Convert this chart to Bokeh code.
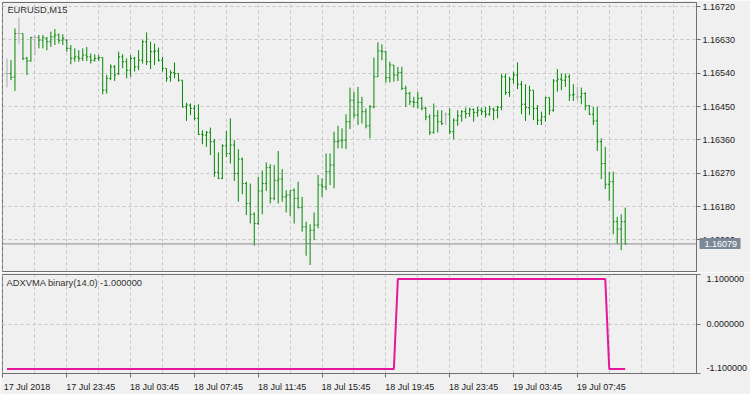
from bokeh.plotting import figure
from bokeh.layouts import column
from bokeh.models import (Range1d, FixedTicker, PrintfTickFormatter, ColumnDataSource,
                          Span, Label, LinearAxis)
from bokeh.embed import file_html
from bokeh.resources import INLINE

# ---------------- data (EURUSD, M15, 17-19 Jul 2018) ----------------
symbol_title = "EURUSD,M15"
indicator_title = "ADXVMA binary(14.0) -1.000000"
last_price = 1.16079

opens = [
    1.16539, 1.16539, 1.16530, 1.16647, 1.16647, 1.16580, 1.16573, 1.16638, 1.16636, 1.16629,
    1.16634, 1.16625, 1.16638, 1.16643, 1.16629, 1.16629, 1.16607, 1.16580, 1.16584, 1.16580,
    1.16589, 1.16584, 1.16575, 1.16580, 1.16582, 1.16494, 1.16526, 1.16557, 1.16539, 1.16584,
    1.16571, 1.16548, 1.16580, 1.16557, 1.16575, 1.16625, 1.16571, 1.16598, 1.16600, 1.16575,
    1.16553, 1.16530, 1.16542, 1.16539, 1.16521, 1.16449, 1.16454, 1.16445, 1.16418, 1.16375,
    1.16373, 1.16380, 1.16355, 1.16272, 1.16256, 1.16344, 1.16323, 1.16346, 1.16269, 1.16308,
    1.16242, 1.16188, 1.16159, 1.16134, 1.16222, 1.16242, 1.16285, 1.16202, 1.16249, 1.16254,
    1.16206, 1.16211, 1.16224, 1.16202, 1.16177, 1.16125, 1.16080, 1.16116, 1.16130, 1.16238,
    1.16233, 1.16274, 1.16292, 1.16355, 1.16357, 1.16359, 1.16409, 1.16467, 1.16427, 1.16461,
    1.16436, 1.16398, 1.16449, 1.16530, 1.16600, 1.16598, 1.16528, 1.16562, 1.16535, 1.16542,
    1.16499, 1.16485, 1.16463, 1.16461, 1.16472, 1.16445, 1.16422, 1.16380, 1.16425, 1.16409,
    1.16429, 1.16429, 1.16382, 1.16413, 1.16425, 1.16436, 1.16431, 1.16442, 1.16434, 1.16440,
    1.16436, 1.16429, 1.16443, 1.16440, 1.16448, 1.16530, 1.16488, 1.16524, 1.16535, 1.16510,
    1.16456, 1.16447, 1.16494, 1.16445, 1.16413, 1.16422, 1.16474, 1.16440, 1.16519, 1.16524,
    1.16521, 1.16530, 1.16481, 1.16476, 1.16476, 1.16485, 1.16452, 1.16429, 1.16411, 1.16355,
    1.16296, 1.16240, 1.16247, 1.16139, 1.16119, 1.16139,
]
highs = [
    1.16580, 1.16575, 1.16661, 1.16690, 1.16647, 1.16584, 1.16638, 1.16641, 1.16643, 1.16643,
    1.16638, 1.16652, 1.16659, 1.16647, 1.16645, 1.16632, 1.16616, 1.16607, 1.16602, 1.16607,
    1.16611, 1.16593, 1.16591, 1.16589, 1.16582, 1.16535, 1.16564, 1.16562, 1.16598, 1.16591,
    1.16580, 1.16589, 1.16584, 1.16602, 1.16629, 1.16650, 1.16625, 1.16620, 1.16609, 1.16584,
    1.16553, 1.16548, 1.16569, 1.16539, 1.16521, 1.16460, 1.16458, 1.16454, 1.16456, 1.16386,
    1.16384, 1.16393, 1.16362, 1.16326, 1.16348, 1.16384, 1.16418, 1.16359, 1.16335, 1.16312,
    1.16247, 1.16242, 1.16164, 1.16260, 1.16277, 1.16299, 1.16294, 1.16292, 1.16330, 1.16281,
    1.16224, 1.16224, 1.16229, 1.16247, 1.16206, 1.16139, 1.16132, 1.16164, 1.16265, 1.16256,
    1.16323, 1.16323, 1.16382, 1.16398, 1.16391, 1.16429, 1.16501, 1.16490, 1.16503, 1.16476,
    1.16445, 1.16454, 1.16582, 1.16623, 1.16618, 1.16600, 1.16571, 1.16562, 1.16557, 1.16557,
    1.16506, 1.16490, 1.16476, 1.16490, 1.16476, 1.16449, 1.16429, 1.16458, 1.16440, 1.16440,
    1.16434, 1.16445, 1.16418, 1.16440, 1.16440, 1.16447, 1.16447, 1.16445, 1.16449, 1.16447,
    1.16449, 1.16452, 1.16447, 1.16452, 1.16537, 1.16539, 1.16530, 1.16544, 1.16569, 1.16519,
    1.16510, 1.16506, 1.16494, 1.16454, 1.16436, 1.16476, 1.16474, 1.16524, 1.16551, 1.16539,
    1.16539, 1.16537, 1.16510, 1.16503, 1.16501, 1.16488, 1.16454, 1.16449, 1.16449, 1.16364,
    1.16341, 1.16274, 1.16274, 1.16152, 1.16159, 1.16177,
]
lows = [
    1.16502, 1.16521, 1.16492, 1.16620, 1.16575, 1.16535, 1.16571, 1.16589, 1.16607, 1.16607,
    1.16602, 1.16611, 1.16616, 1.16620, 1.16616, 1.16598, 1.16564, 1.16571, 1.16571, 1.16573,
    1.16573, 1.16566, 1.16571, 1.16573, 1.16483, 1.16485, 1.16521, 1.16519, 1.16535, 1.16553,
    1.16526, 1.16530, 1.16544, 1.16548, 1.16566, 1.16562, 1.16551, 1.16562, 1.16571, 1.16544,
    1.16517, 1.16517, 1.16526, 1.16517, 1.16447, 1.16411, 1.16427, 1.16413, 1.16373, 1.16348,
    1.16341, 1.16319, 1.16260, 1.16254, 1.16254, 1.16314, 1.16296, 1.16249, 1.16193, 1.16213,
    1.16157, 1.16134, 1.16074, 1.16130, 1.16159, 1.16222, 1.16188, 1.16197, 1.16188, 1.16193,
    1.16164, 1.16155, 1.16134, 1.16175, 1.16112, 1.16047, 1.16022, 1.16089, 1.16121, 1.16206,
    1.16224, 1.16238, 1.16229, 1.16337, 1.16337, 1.16335, 1.16389, 1.16418, 1.16400, 1.16404,
    1.16391, 1.16364, 1.16445, 1.16530, 1.16575, 1.16515, 1.16515, 1.16517, 1.16519, 1.16494,
    1.16449, 1.16454, 1.16447, 1.16445, 1.16440, 1.16413, 1.16373, 1.16377, 1.16380, 1.16400,
    1.16400, 1.16375, 1.16362, 1.16398, 1.16409, 1.16418, 1.16422, 1.16409, 1.16422, 1.16427,
    1.16420, 1.16425, 1.16413, 1.16418, 1.16440, 1.16481, 1.16476, 1.16512, 1.16497, 1.16429,
    1.16411, 1.16427, 1.16413, 1.16400, 1.16400, 1.16409, 1.16427, 1.16436, 1.16490, 1.16494,
    1.16503, 1.16465, 1.16465, 1.16467, 1.16456, 1.16440, 1.16427, 1.16400, 1.16330, 1.16254,
    1.16227, 1.16195, 1.16105, 1.16078, 1.16062, 1.16076,
]
closes = [
    1.16539, 1.16528, 1.16647, 1.16647, 1.16580, 1.16573, 1.16636, 1.16638, 1.16629, 1.16636,
    1.16625, 1.16638, 1.16643, 1.16629, 1.16634, 1.16607, 1.16580, 1.16584, 1.16580, 1.16589,
    1.16584, 1.16575, 1.16580, 1.16582, 1.16494, 1.16526, 1.16557, 1.16535, 1.16584, 1.16571,
    1.16548, 1.16580, 1.16557, 1.16575, 1.16625, 1.16571, 1.16598, 1.16600, 1.16575, 1.16553,
    1.16526, 1.16542, 1.16539, 1.16521, 1.16449, 1.16454, 1.16445, 1.16418, 1.16375, 1.16373,
    1.16380, 1.16355, 1.16272, 1.16256, 1.16344, 1.16323, 1.16346, 1.16269, 1.16308, 1.16242,
    1.16188, 1.16159, 1.16134, 1.16222, 1.16242, 1.16285, 1.16202, 1.16251, 1.16254, 1.16206,
    1.16211, 1.16224, 1.16202, 1.16177, 1.16125, 1.16080, 1.16116, 1.16130, 1.16238, 1.16233,
    1.16274, 1.16292, 1.16355, 1.16357, 1.16359, 1.16409, 1.16467, 1.16427, 1.16461, 1.16436,
    1.16398, 1.16449, 1.16530, 1.16600, 1.16598, 1.16528, 1.16562, 1.16535, 1.16542, 1.16499,
    1.16485, 1.16463, 1.16461, 1.16472, 1.16445, 1.16422, 1.16380, 1.16425, 1.16409, 1.16404,
    1.16429, 1.16382, 1.16413, 1.16425, 1.16436, 1.16431, 1.16442, 1.16434, 1.16440, 1.16436,
    1.16429, 1.16443, 1.16440, 1.16448, 1.16530, 1.16488, 1.16524, 1.16535, 1.16510, 1.16456,
    1.16447, 1.16494, 1.16445, 1.16413, 1.16422, 1.16474, 1.16440, 1.16519, 1.16524, 1.16521,
    1.16530, 1.16481, 1.16483, 1.16476, 1.16485, 1.16452, 1.16429, 1.16411, 1.16355, 1.16296,
    1.16240, 1.16247, 1.16139, 1.16119, 1.16139, 1.16079,
]
adxvma = [
    -1, -1, -1, -1, -1, -1, -1, -1, -1, -1, -1, -1, -1, -1, -1, -1, -1, -1, -1, -1,
    -1, -1, -1, -1, -1, -1, -1, -1, -1, -1, -1, -1, -1, -1, -1, -1, -1, -1, -1, -1,
    -1, -1, -1, -1, -1, -1, -1, -1, -1, -1, -1, -1, -1, -1, -1, -1, -1, -1, -1, -1,
    -1, -1, -1, -1, -1, -1, -1, -1, -1, -1, -1, -1, -1, -1, -1, -1, -1, -1, -1, -1,
    -1, -1, -1, -1, -1, -1, -1, -1, -1, -1, -1, -1, -1, -1, -1, -1, -1, -1, 1, 1,
    1, 1, 1, 1, 1, 1, 1, 1, 1, 1, 1, 1, 1, 1, 1, 1, 1, 1, 1, 1,
    1, 1, 1, 1, 1, 1, 1, 1, 1, 1, 1, 1, 1, 1, 1, 1, 1, 1, 1, 1,
    1, 1, 1, 1, 1, 1, 1, 1, 1, 1, 1, -1, -1, -1, -1, -1,
]
bar_index = list(range(1, len(opens) + 1))

time_tick_index = [0, 16, 32, 48, 64, 80, 96, 112, 128, 144]
time_tick_labels = ["17 Jul 2018", "17 Jul 23:45", "18 Jul 03:45", "18 Jul 07:45",
                    "18 Jul 11:45", "18 Jul 15:45", "18 Jul 19:45", "18 Jul 23:45",
                    "19 Jul 03:45", "19 Jul 07:45"]
price_ticks = [1.16090, 1.16180, 1.16270, 1.16360, 1.16450, 1.16540, 1.16630, 1.16720]
indicator_scale = [-1.1, 0.0, 1.1]          # scale levels (tick marks)
indicator_labels = ["-1.100000", "0.000000", "1.100000"]
grid_every = 8

# ---------------- style ----------------
BG = "#f0f0f0"
GRID = "#c6c6c6"
FRAME = "#707070"
BAR = "#068806"
DOJI = "#a9a9a9"
IND = "#e5179a"
TXT = "#1a1a1a"
BOX = "#7b8897"
FONT = "Liberation Sans"
FS = "9px"
FS_TITLE = "9.3px"

n_slots = 174
xr = Range1d(-0.125, n_slots - 0.125)
grid_x = list(range(0, n_slots, grid_every))


def style_common(p):
    p.background_fill_color = BG
    p.border_fill_color = BG
    p.outline_line_color = FRAME
    p.xgrid.ticker = FixedTicker(ticks=grid_x)
    p.xgrid.grid_line_color = GRID
    p.xgrid.grid_line_dash = "3 3"
    p.ygrid.grid_line_color = GRID
    p.ygrid.grid_line_dash = "3 3"
    ax = p.yaxis[0]
    ax.axis_line_color = FRAME
    ax.major_tick_line_color = FRAME
    ax.major_tick_out = 4
    ax.major_tick_in = 0
    ax.minor_tick_line_color = None
    ax.major_label_standoff = 2
    ax.major_label_text_font = FONT
    ax.major_label_text_font_size = FS
    ax.major_label_text_color = TXT


# ---------------- price panel ----------------
p1 = figure(width=750, height=272, x_range=xr, y_range=Range1d(1.160045, 1.167308),
            output_backend="svg", toolbar_location=None,
            x_axis_location=None, y_axis_location="right",
            min_border_left=2, min_border_right=52, min_border_top=2, min_border_bottom=1)
style_common(p1)
p1.yaxis.ticker = FixedTicker(ticks=price_ticks)
p1.yaxis.formatter = PrintfTickFormatter(format="%.5f")
p1.ygrid.ticker = FixedTicker(ticks=price_ticks)

colors = [DOJI if o == c else BAR for o, c in zip(opens, closes)]
src = ColumnDataSource(dict(
    x=bar_index, xl=[i - 0.35 for i in bar_index], xr=[i + 0.35 for i in bar_index],
    o=opens, h=highs, l=lows, c=closes, color=colors))
p1.segment(x0="x", y0="l", x1="x", y1="h", line_color="color", line_width=1, source=src)
p1.segment(x0="xl", y0="o", x1="x", y1="o", line_color="color", line_width=1, source=src)
p1.segment(x0="x", y0="c", x1="xr", y1="c", line_color="color", line_width=1, source=src)

p1.add_layout(Span(location=last_price, dimension="width", line_color="#8a8a8a", line_width=1))
p1.add_layout(Label(x=1.1, y=1.167250, text=symbol_title, text_font=FONT,
                    text_font_size=FS_TITLE, text_color="#333333",
                    text_align="left", text_baseline="top"))

# last-price marker on the price scale: a second right axis stacked just outside the
# price labels; its single tick points inward (back to the frame) and is drawn as
# the grey box, its label pulled back onto the box
pax = LinearAxis(ticker=FixedTicker(ticks=[last_price]),
                 formatter=PrintfTickFormatter(format="%.5f"))
pax.axis_line_color = None
pax.major_tick_line_color = BOX
pax.major_tick_line_width = 11
pax.major_tick_line_cap = "butt"
pax.major_tick_in = 39
pax.major_tick_out = 2
pax.minor_tick_line_color = None
pax.major_label_standoff = -36
pax.major_label_text_font = FONT
pax.major_label_text_font_size = FS
pax.major_label_text_color = "white"
p1.add_layout(pax, "right")

# ---------------- indicator panel ----------------
p2 = figure(width=750, height=122, x_range=xr, y_range=Range1d(-1.1, 1.1),
            output_backend="svg", toolbar_location=None,
            x_axis_location=None, y_axis_location="right",
            min_border_left=2, min_border_right=52, min_border_top=2, min_border_bottom=21)
style_common(p2)
# MetaTrader prints the scale extremes just inside the window: labels sit inside,
# tick marks at the true levels
label_pos = [-0.975, 0.0, 0.99]
ya = p2.yaxis[0]
ya.ticker = FixedTicker(ticks=label_pos, minor_ticks=indicator_scale)
ya.major_label_overrides = {-0.975: indicator_labels[0], 0: indicator_labels[1],
                            0.99: indicator_labels[2]}
ya.major_tick_out = 0
ya.minor_tick_out = 4
ya.minor_tick_in = 0
ya.minor_tick_line_color = FRAME
ya.major_label_standoff = 6
p2.ygrid.ticker = FixedTicker(ticks=[0.0])

# time axis: labels start at their tick (left aligned) -> separate, shifted label range
label_shift = 6.0
p2.extra_x_ranges = {"lab": Range1d(xr.start - label_shift, xr.end - label_shift)}
xa = LinearAxis(x_range_name="lab",
                ticker=FixedTicker(ticks=time_tick_index,
                                   minor_ticks=[t - label_shift for t in time_tick_index]),
                major_label_overrides=dict(zip(time_tick_index, time_tick_labels)))
xa.axis_line_color = FRAME
xa.major_tick_out = 0
xa.major_tick_in = 0
xa.minor_tick_out = 4
xa.minor_tick_in = 0
xa.minor_tick_line_color = FRAME
xa.major_label_standoff = 4
xa.major_label_text_font = FONT
xa.major_label_text_font_size = FS
xa.major_label_text_color = TXT
p2.add_layout(xa, "below")

p2.line(bar_index, adxvma, line_color=IND, line_width=2)
p2.add_layout(Label(x=0.9, y=1.033, text=indicator_title, text_font=FONT,
                    text_font_size=FS_TITLE, text_color="#333333",
                    text_align="left", text_baseline="top"))

p = column(p1, p2)
open("out.html", "w").write(file_html(p, INLINE))
